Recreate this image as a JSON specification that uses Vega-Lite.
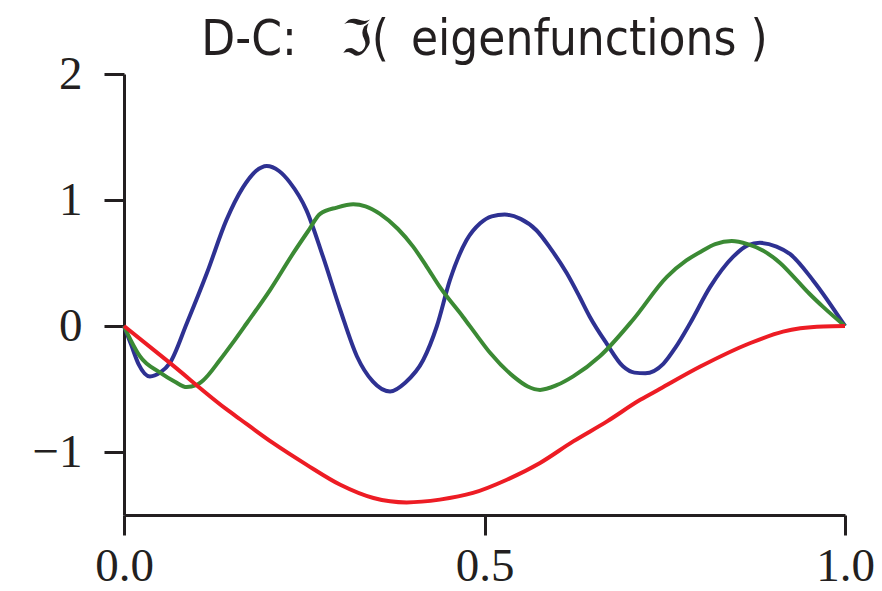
{
  "$schema": "https://vega.github.io/schema/vega-lite/v6.json",
  "width": 721,
  "height": 441,
  "autosize": "none",
  "padding": {"left": 124, "top": 74, "right": 37, "bottom": 76},
  "background": "white",
  "title": {
    "text": "D-C:\u2003ℑ(\u2002eigenfunctions )",
    "font": "DejaVu Sans Condensed, Liberation Sans, sans-serif",
    "fontSize": 49,
    "fontWeight": "normal",
    "color": "#231f20",
    "anchor": "middle",
    "baseline": "alphabetic",
    "offset": -8,
    "dy": 46
  },
  "config": {
    "view": {"stroke": null},
    "axis": {
      "grid": false,
      "domainColor": "#231f20",
      "domainWidth": 3,
      "tickColor": "#231f20",
      "tickWidth": 3,
      "tickSize": 20,
      "labelFont": "Liberation Serif",
      "labelFontSize": 47,
      "labelColor": "#231f20",
      "title": null
    }
  },
  "data": {
    "values": [
      {"x": 0, "y": 0, "s": "b"},
      {"x": 0.01, "y": -0.15, "s": "b"},
      {"x": 0.02, "y": -0.3, "s": "b"},
      {"x": 0.036, "y": -0.4, "s": "b"},
      {"x": 0.05, "y": -0.37, "s": "b"},
      {"x": 0.064, "y": -0.29, "s": "b"},
      {"x": 0.087, "y": 0.02, "s": "b"},
      {"x": 0.115, "y": 0.42, "s": "b"},
      {"x": 0.142, "y": 0.84, "s": "b"},
      {"x": 0.165, "y": 1.1, "s": "b"},
      {"x": 0.183, "y": 1.23, "s": "b"},
      {"x": 0.198, "y": 1.27, "s": "b"},
      {"x": 0.215, "y": 1.23, "s": "b"},
      {"x": 0.23, "y": 1.14, "s": "b"},
      {"x": 0.253, "y": 0.92, "s": "b"},
      {"x": 0.276, "y": 0.55, "s": "b"},
      {"x": 0.3, "y": 0.127, "s": "b"},
      {"x": 0.323, "y": -0.24, "s": "b"},
      {"x": 0.345, "y": -0.44, "s": "b"},
      {"x": 0.369, "y": -0.52, "s": "b"},
      {"x": 0.39, "y": -0.45, "s": "b"},
      {"x": 0.415, "y": -0.27, "s": "b"},
      {"x": 0.434, "y": 0, "s": "b"},
      {"x": 0.452, "y": 0.364, "s": "b"},
      {"x": 0.475, "y": 0.68, "s": "b"},
      {"x": 0.494, "y": 0.815, "s": "b"},
      {"x": 0.51, "y": 0.87, "s": "b"},
      {"x": 0.528, "y": 0.884, "s": "b"},
      {"x": 0.55, "y": 0.85, "s": "b"},
      {"x": 0.572, "y": 0.76, "s": "b"},
      {"x": 0.591, "y": 0.62, "s": "b"},
      {"x": 0.614, "y": 0.42, "s": "b"},
      {"x": 0.632, "y": 0.23, "s": "b"},
      {"x": 0.646, "y": 0.074, "s": "b"},
      {"x": 0.669, "y": -0.136, "s": "b"},
      {"x": 0.692, "y": -0.32, "s": "b"},
      {"x": 0.708, "y": -0.37, "s": "b"},
      {"x": 0.723, "y": -0.375, "s": "b"},
      {"x": 0.748, "y": -0.3, "s": "b"},
      {"x": 0.765, "y": -0.17, "s": "b"},
      {"x": 0.785, "y": 0.02, "s": "b"},
      {"x": 0.813, "y": 0.31, "s": "b"},
      {"x": 0.845, "y": 0.55, "s": "b"},
      {"x": 0.865, "y": 0.64, "s": "b"},
      {"x": 0.882, "y": 0.66, "s": "b"},
      {"x": 0.905, "y": 0.63, "s": "b"},
      {"x": 0.924, "y": 0.57, "s": "b"},
      {"x": 0.956, "y": 0.36, "s": "b"},
      {"x": 1, "y": 0, "s": "b"},

      {"x": 0, "y": 0, "s": "g"},
      {"x": 0.01, "y": -0.12, "s": "g"},
      {"x": 0.022, "y": -0.24, "s": "g"},
      {"x": 0.05, "y": -0.37, "s": "g"},
      {"x": 0.07, "y": -0.44, "s": "g"},
      {"x": 0.087, "y": -0.485, "s": "g"},
      {"x": 0.1, "y": -0.47, "s": "g"},
      {"x": 0.11, "y": -0.43, "s": "g"},
      {"x": 0.133, "y": -0.27, "s": "g"},
      {"x": 0.15, "y": -0.14, "s": "g"},
      {"x": 0.17, "y": 0.02, "s": "g"},
      {"x": 0.2025, "y": 0.285, "s": "g"},
      {"x": 0.235, "y": 0.58, "s": "g"},
      {"x": 0.255, "y": 0.75, "s": "g"},
      {"x": 0.272, "y": 0.89, "s": "g"},
      {"x": 0.295, "y": 0.94, "s": "g"},
      {"x": 0.318, "y": 0.966, "s": "g"},
      {"x": 0.335, "y": 0.95, "s": "g"},
      {"x": 0.355, "y": 0.89, "s": "g"},
      {"x": 0.38, "y": 0.77, "s": "g"},
      {"x": 0.401, "y": 0.63, "s": "g"},
      {"x": 0.42, "y": 0.47, "s": "g"},
      {"x": 0.438, "y": 0.31, "s": "g"},
      {"x": 0.47, "y": 0.074, "s": "g"},
      {"x": 0.49, "y": -0.08, "s": "g"},
      {"x": 0.508, "y": -0.215, "s": "g"},
      {"x": 0.54, "y": -0.4, "s": "g"},
      {"x": 0.56, "y": -0.48, "s": "g"},
      {"x": 0.577, "y": -0.507, "s": "g"},
      {"x": 0.6, "y": -0.47, "s": "g"},
      {"x": 0.623, "y": -0.4, "s": "g"},
      {"x": 0.66, "y": -0.24, "s": "g"},
      {"x": 0.706, "y": 0.05, "s": "g"},
      {"x": 0.753, "y": 0.39, "s": "g"},
      {"x": 0.78, "y": 0.52, "s": "g"},
      {"x": 0.8, "y": 0.59, "s": "g"},
      {"x": 0.82, "y": 0.65, "s": "g"},
      {"x": 0.843, "y": 0.675, "s": "g"},
      {"x": 0.865, "y": 0.65, "s": "g"},
      {"x": 0.886, "y": 0.6, "s": "g"},
      {"x": 0.91, "y": 0.5, "s": "g"},
      {"x": 0.933, "y": 0.364, "s": "g"},
      {"x": 0.95, "y": 0.26, "s": "g"},
      {"x": 0.97, "y": 0.15, "s": "g"},
      {"x": 1, "y": 0, "s": "g"},

      {"x": 0, "y": 0, "s": "r"},
      {"x": 0.064, "y": -0.295, "s": "r"},
      {"x": 0.142, "y": -0.66, "s": "r"},
      {"x": 0.161, "y": -0.74, "s": "r"},
      {"x": 0.207, "y": -0.93, "s": "r"},
      {"x": 0.253, "y": -1.1, "s": "r"},
      {"x": 0.3, "y": -1.26, "s": "r"},
      {"x": 0.346, "y": -1.365, "s": "r"},
      {"x": 0.392, "y": -1.4, "s": "r"},
      {"x": 0.438, "y": -1.378, "s": "r"},
      {"x": 0.484, "y": -1.325, "s": "r"},
      {"x": 0.531, "y": -1.22, "s": "r"},
      {"x": 0.577, "y": -1.087, "s": "r"},
      {"x": 0.623, "y": -0.916, "s": "r"},
      {"x": 0.67, "y": -0.757, "s": "r"},
      {"x": 0.716, "y": -0.586, "s": "r"},
      {"x": 0.743, "y": -0.5, "s": "r"},
      {"x": 0.8, "y": -0.32, "s": "r"},
      {"x": 0.868, "y": -0.137, "s": "r"},
      {"x": 0.914, "y": -0.045, "s": "r"},
      {"x": 0.938, "y": -0.018, "s": "r"},
      {"x": 0.97, "y": -0.003, "s": "r"},
      {"x": 1, "y": 0, "s": "r"}
    ]
  },
  "mark": {"type": "line", "strokeWidth": 4, "interpolate": "monotone"},
  "encoding": {
    "x": {
      "field": "x", "type": "quantitative",
      "scale": {"domain": [0, 1], "nice": false, "zero": false},
      "axis": {"values": [0, 0.5, 1], "format": ".1f", "labelPadding": 8, "labelFlush": false}
    },
    "y": {
      "field": "y", "type": "quantitative",
      "scale": {"domain": [-1.5, 2], "nice": false, "zero": false},
      "axis": {"values": [-1, 0, 1, 2], "format": "d", "labelPadding": 22}
    },
    "color": {
      "field": "s", "type": "nominal",
      "scale": {"domain": ["b", "g", "r"], "range": ["#2e3192", "#3b8a34", "#ed1c24"]},
      "legend": null
    },
    "order": {"field": "x", "type": "quantitative"}
  }
}
